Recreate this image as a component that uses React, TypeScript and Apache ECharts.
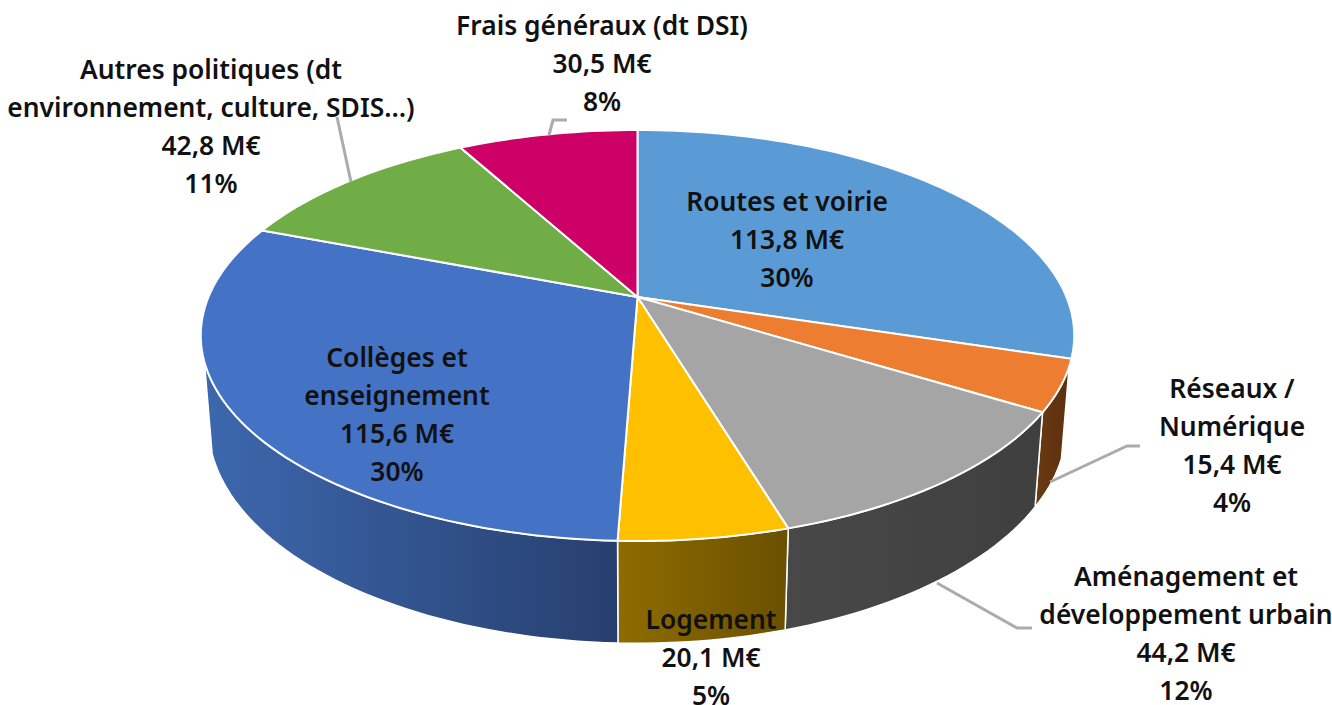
import React, { useEffect, useRef } from "react";
import * as echarts from "echarts";

// ---- data ----
const categories = [
  "Routes et voirie",
  "Réseaux /\nNumérique",
  "Aménagement et\ndéveloppement urbain",
  "Logement",
  "Collèges et\nenseignement",
  "Autres politiques (dt\nenvironnement, culture, SDIS…)",
  "Frais généraux (dt DSI)",
];
const amounts = [113.8, 15.4, 44.2, 20.1, 115.6, 42.8, 30.5];
const amountLabels = ["113,8 M€", "15,4 M€", "44,2 M€", "20,1 M€", "115,6 M€", "42,8 M€", "30,5 M€"];
const shareLabels = ["30%", "4%", "12%", "5%", "30%", "11%", "8%"];

// ---- styles ----
const topColors = ["#5B9BD5", "#ED7D31", "#A5A5A5", "#FFC000", "#4472C4", "#70AD47", "#CC0066"];
const wallColors: string[][] = [
  ["#3D6A94", "#3D6A94"],
  ["#6B3A12", "#5C2F0E"],
  ["#484848", "#3F3F3F"],
  ["#8F6C00", "#6A5000"],
  ["#3D68AE", "#273F6E"],
  ["#4A7530", "#4A7530"],
  ["#880044", "#880044"],
];
const labelAnchors = [
  [787, 238.5], [1232, 445], [1186, 632.5], [711, 656.5], [397, 413.5], [211, 126], [602, 62.5],
];
const leaderLines = [
  [[1050, 482], [1127, 446], [1140, 446]],
  [[937, 583], [1017, 628], [1032, 628]],
  [[351, 182], [337, 117]],
  [[549, 135], [553, 120], [567, 120]],
];

// ---- projection of the tilted cylinder ----
const APEX = [637.5, 297];
const SX = 429;
const SY = 198.3;
const PERSP = 0.1873;
const DEPTH_W = 0.017;
const DEPTH_Y = 89;
const WALL_FROM = 109.3;
const WALL_TO = 252;
const rad = (d: number) => (d * Math.PI) / 180;

function rim(deg: number, bottom: boolean): number[] {
  const s = Math.sin(rad(deg));
  const c = Math.cos(rad(deg));
  const w = 1 + PERSP * c + (bottom ? DEPTH_W : 0);
  return [APEX[0] + (SX * s) / w, APEX[1] + (-SY * c + (bottom ? DEPTH_Y : 0)) / w];
}
function arc(a0: number, a1: number, bottom: boolean): number[][] {
  const n = Math.max(2, Math.ceil(Math.abs(a1 - a0) / 1.5));
  const pts: number[][] = [];
  for (let i = 0; i <= n; i++) pts.push(rim(a0 + ((a1 - a0) * i) / n, bottom));
  return pts;
}
const total = amounts.reduce((a, b) => a + b, 0);
function sliceAngles(index: number): [number, number] {
  let before = 0;
  for (let i = 0; i < index; i++) before += amounts[i];
  return [(before / total) * 360, ((before + amounts[index]) / total) * 360];
}

const renderTop = (params: any, api: any) => {
  const i = params.dataIndex;
  const [a0] = sliceAngles(i);
  const a1 = a0 + (api.value(0) / total) * 360;
  return {
    type: "polygon",
    shape: { points: [APEX, ...arc(a0, a1, false)] },
    style: { fill: topColors[i], stroke: "#FFFFFF", lineWidth: 2, lineJoin: "round" },
  };
};
const renderWall = (params: any, api: any) => {
  const i = params.dataIndex;
  const [s] = sliceAngles(i);
  const e = s + (api.value(0) / total) * 360;
  const a0 = Math.max(s, WALL_FROM);
  const a1 = Math.min(e, WALL_TO);
  if (a1 <= a0) return null;
  return {
    type: "polygon",
    shape: { points: [...arc(a0, a1, false), ...arc(a1, a0, true)] },
    style: {
      fill: new echarts.graphic.LinearGradient(0, 0, 1, 0, [
        { offset: 0, color: wallColors[i][0] },
        { offset: 1, color: wallColors[i][1] },
      ]),
      stroke: "#FFFFFF",
      lineWidth: 1.5,
    },
  };
};

export default function App() {
  const ref = useRef<HTMLDivElement>(null);
  useEffect(() => {
    document.body.style.margin = "0";
    const chart = echarts.init(ref.current!, undefined, { renderer: "svg" });
    const data = amounts.map((v, i) => ({ name: categories[i].replace("\n", " "), value: [v] }));
    chart.setOption({
      animation: false,
      backgroundColor: "#FFFFFF",
      series: [
        { type: "custom", coordinateSystem: "none", renderItem: renderWall, data, z: 1, silent: true },
        { type: "custom", coordinateSystem: "none", renderItem: renderTop, data, z: 2, silent: true },
      ],
      graphic: [
        ...leaderLines.map((pts) => ({
          type: "polyline",
          z: 5,
          shape: { points: pts },
          style: { fill: "none", stroke: "#ABABAB", lineWidth: 3 },
        })),
        ...categories.map((c, i) => ({
          type: "text",
          z: 10,
          x: labelAnchors[i][0],
          y: labelAnchors[i][1],
          style: {
            text: `${c}\n${amountLabels[i]}\n${shareLabels[i]}`,
            fontFamily: "'Noto Sans', sans-serif",
            fontWeight: 600,
            fontSize: 26.4,
            lineHeight: 38,
            fill: "#111111",
            align: "center",
            verticalAlign: "middle",
          },
        })),
      ],
    });
    return () => chart.dispose();
  }, []);
  return <div ref={ref} style={{ width: 1332, height: 705, overflow: "hidden" }} />;
}
